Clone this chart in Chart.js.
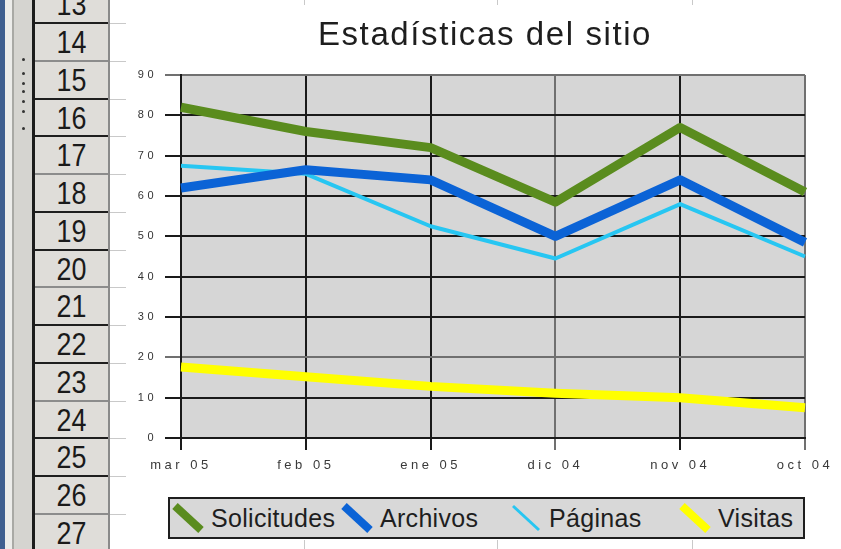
<!DOCTYPE html>
<html>
<head>
<meta charset="utf-8">
<title>Estadísticas del sitio</title>
<script src="https://cdn.jsdelivr.net/npm/chart.js@4.4.1/dist/chart.umd.min.js"></script>
<style>
  html, body { margin: 0; padding: 0; }
  body {
    width: 841px; height: 549px; overflow: hidden; position: relative;
    background: #fff; font-family: "Liberation Sans", Arial, sans-serif;
  }
  .abs { position: absolute; }
  #blue-edge { left: 0; top: 0; width: 5px; height: 549px; background: #3f5f90; }
  #pane {
    left: 5px; top: 0; width: 27px; height: 549px;
    background: linear-gradient(to right, #ececea 0 7px, #a9a9a5 7px 9px, #d5d4d0 9px);
  }
  #divider { left: 32px; top: 0; width: 3px; height: 549px; background: #1c1c1c; }
  #row-head {
    left: 35px; top: 0; width: 73px; height: 549px;
    background: #dfddd9; border-right: 2px solid #8a8a8a;
  }
  .grip { width: 3px; height: 3px; border-radius: 50%; background: #333; left: 22px; }
  .row-line { left: 35px; width: 73px; height: 2px; }
  .cell-line { left: 110px; width: 16px; height: 1px; background: #c9c9c9; }
  .col-line { width: 1px; background: #c9c9c9; }
  .row-num {
    left: 35px; width: 73px; height: 36px; line-height: 36px; text-align: center;
    font-size: 32px; color: #1a1a1a; transform: scaleX(0.84);
  }
  #chart { position: absolute; left: 126px; top: 5px; background: #fff; }
  #title {
    left: 285px; top: 14px; width: 400px; height: 40px; line-height: 40px;
    text-align: center; font-size: 33px; letter-spacing: 1.6px; color: #1e1e1e;
  }
  #legend {
    left: 168px; top: 497px; width: 637px; height: 42px; box-sizing: border-box;
    border: 2px solid #1e1e1e; background: #d8d8d8;
  }
  .legend-item { top: 0; height: 38px; display: flex; align-items: center; }
  .legend-item span {
    margin-left: 7px; font-size: 25px; letter-spacing: 0.3px; color: #1e1e1e;
    line-height: 38px;
  }
</style>
</head>
<body>
<div id="blue-edge" class="abs"></div>
<div id="pane" class="abs"></div>
<div id="divider" class="abs"></div>
<div id="row-head" class="abs"></div>
<canvas id="chart" width="715" height="535"></canvas>
<div id="title" class="abs">Estadísticas del sitio</div>
<div id="legend" class="abs"></div>
<script>
  // Site statistics by month (newest first)
  const categorias = ['mar 05', 'feb 05', 'ene 05', 'dic 04', 'nov 04', 'oct 04'];
  const solicitudes = [82, 76, 72, 58.5, 77, 61];
  const archivos = [62, 66.5, 64, 50, 64, 48.5];
  const paginas = [67.5, 65.5, 52.5, 44.5, 58, 45];
  const visitas = [17.6, 15.2, 12.8, 11.1, 10, 7.5];
  const nombresSeries = ['Solicitudes', 'Archivos', 'Páginas', 'Visitas'];
  const ejeY = { min: 0, max: 90, paso: 10 };

  // spreadsheet row headers shown behind the chart
  const primeraFila = 13;
  const ultimaFila = 27;

  const estilos = [
    { color: '#5a8c1e', ancho: 9 },
    { color: '#0b63d6', ancho: 9 },
    { color: '#27c6f2', ancho: 4 },
    { color: '#ffff00', ancho: 9 }
  ];

  // --- sheet frame ---
  const body = document.body;
  const chartEl = document.getElementById('chart');
  const rowPitch = 37.75;
  for (let n = primeraFila; n <= ultimaFila; n += 1) {
    const k = n - primeraFila;
    const num = document.createElement('div');
    num.className = 'abs row-num';
    num.style.top = (4.25 + k * rowPitch - 18) + 'px';
    num.textContent = n;
    body.insertBefore(num, chartEl);

    const yLine = 23 + k * rowPitch;
    const line = document.createElement('div');
    line.className = 'abs row-line';
    line.style.top = (yLine - 1) + 'px';
    line.style.background = (k % 3 === 1) ? '#8c8c8c' : '#1e1e1e';
    body.insertBefore(line, chartEl);

    const cell = document.createElement('div');
    cell.className = 'abs cell-line';
    cell.style.top = yLine + 'px';
    body.insertBefore(cell, chartEl);
  }
  [58, 72, 82, 90, 100, 110, 127].forEach((y) => {
    const dot = document.createElement('div');
    dot.className = 'abs grip';
    dot.style.top = y + 'px';
    body.insertBefore(dot, chartEl);
  });
  [304, 497, 692].forEach((x) => {
    const col = document.createElement('div');
    col.className = 'abs col-line';
    col.style.left = x + 'px';
    col.style.top = '0px';
    col.style.height = '549px';
    body.insertBefore(col, chartEl);
  });

  // --- chart ---
  const valores = [solicitudes, archivos, paginas, visitas];
  const datasets = nombresSeries.map((nombre, i) => ({
    label: nombre,
    data: valores[i],
    borderColor: estilos[i].color,
    backgroundColor: estilos[i].color,
    borderWidth: estilos[i].ancho,
    borderJoinStyle: 'round',
    pointRadius: 0,
    tension: 0,
    fill: false
  }));

  const plotBackground = {
    id: 'plotBackground',
    beforeDraw(chart) {
      const { ctx, chartArea } = chart;
      ctx.save();
      ctx.fillStyle = '#d6d6d6';
      ctx.fillRect(chartArea.left, chartArea.top, chartArea.width, chartArea.height);
      ctx.restore();
      // wide tick lettering
      ctx.letterSpacing = '3.5px';
    }
  };

  const gridDark = '#1a1a1a';
  const gridSoft = '#707070';

  new Chart(chartEl, {
    type: 'line',
    data: { labels: categorias, datasets },
    plugins: [plotBackground],
    options: {
      responsive: false,
      animation: false,
      devicePixelRatio: 1,
      layout: { padding: { top: 70, right: 36, bottom: 62, left: 0 } },
      plugins: {
        legend: { display: false },
        tooltip: { enabled: false }
      },
      scales: {
        x: {
          type: 'category',
          offset: false,
          afterFit: (scale) => { scale.height = 40; },
          grid: {
            color: (ctx) => (ctx.index === 3 || ctx.index === 5 ? gridSoft : gridDark),
            lineWidth: 2,
            tickLength: 12
          },
          border: { color: gridDark, width: 2 },
          ticks: {
            color: '#3a3a3a',
            font: { family: 'Liberation Sans', size: 13 },
            padding: 8,
            maxRotation: 0,
            autoSkip: false
          }
        },
        y: {
          min: ejeY.min,
          max: ejeY.max,
          afterFit: (scale) => { scale.width = 55; },
          grid: {
            color: (ctx) => (ctx.tick && (ctx.tick.value === 20 || ctx.tick.value === 90) ? gridSoft : gridDark),
            lineWidth: 2,
            tickLength: 16
          },
          border: { color: gridDark, width: 2 },
          ticks: {
            stepSize: ejeY.paso,
            color: '#333',
            font: { family: 'Liberation Sans', size: 11 },
            padding: 8
          }
        }
      }
    }
  });

  // --- legend ---
  const legend = document.getElementById('legend');
  nombresSeries.forEach((nombre, i) => {
    const item = document.createElement('div');
    item.className = 'abs legend-item';
    item.style.left = (2 + i * 169) + 'px';
    const svgNS = 'http://www.w3.org/2000/svg';
    const svg = document.createElementNS(svgNS, 'svg');
    svg.setAttribute('width', '32');
    svg.setAttribute('height', '30');
    const line = document.createElementNS(svgNS, 'line');
    line.setAttribute('x1', '3');
    line.setAttribute('y1', '3');
    line.setAttribute('x2', '29');
    line.setAttribute('y2', '27');
    line.setAttribute('stroke', estilos[i].color);
    line.setAttribute('stroke-width', String(estilos[i].ancho === 9 ? 8 : 3));
    svg.appendChild(line);
    const text = document.createElement('span');
    text.textContent = nombre;
    item.append(svg, text);
    legend.appendChild(item);
  });
</script>
</body>
</html>
